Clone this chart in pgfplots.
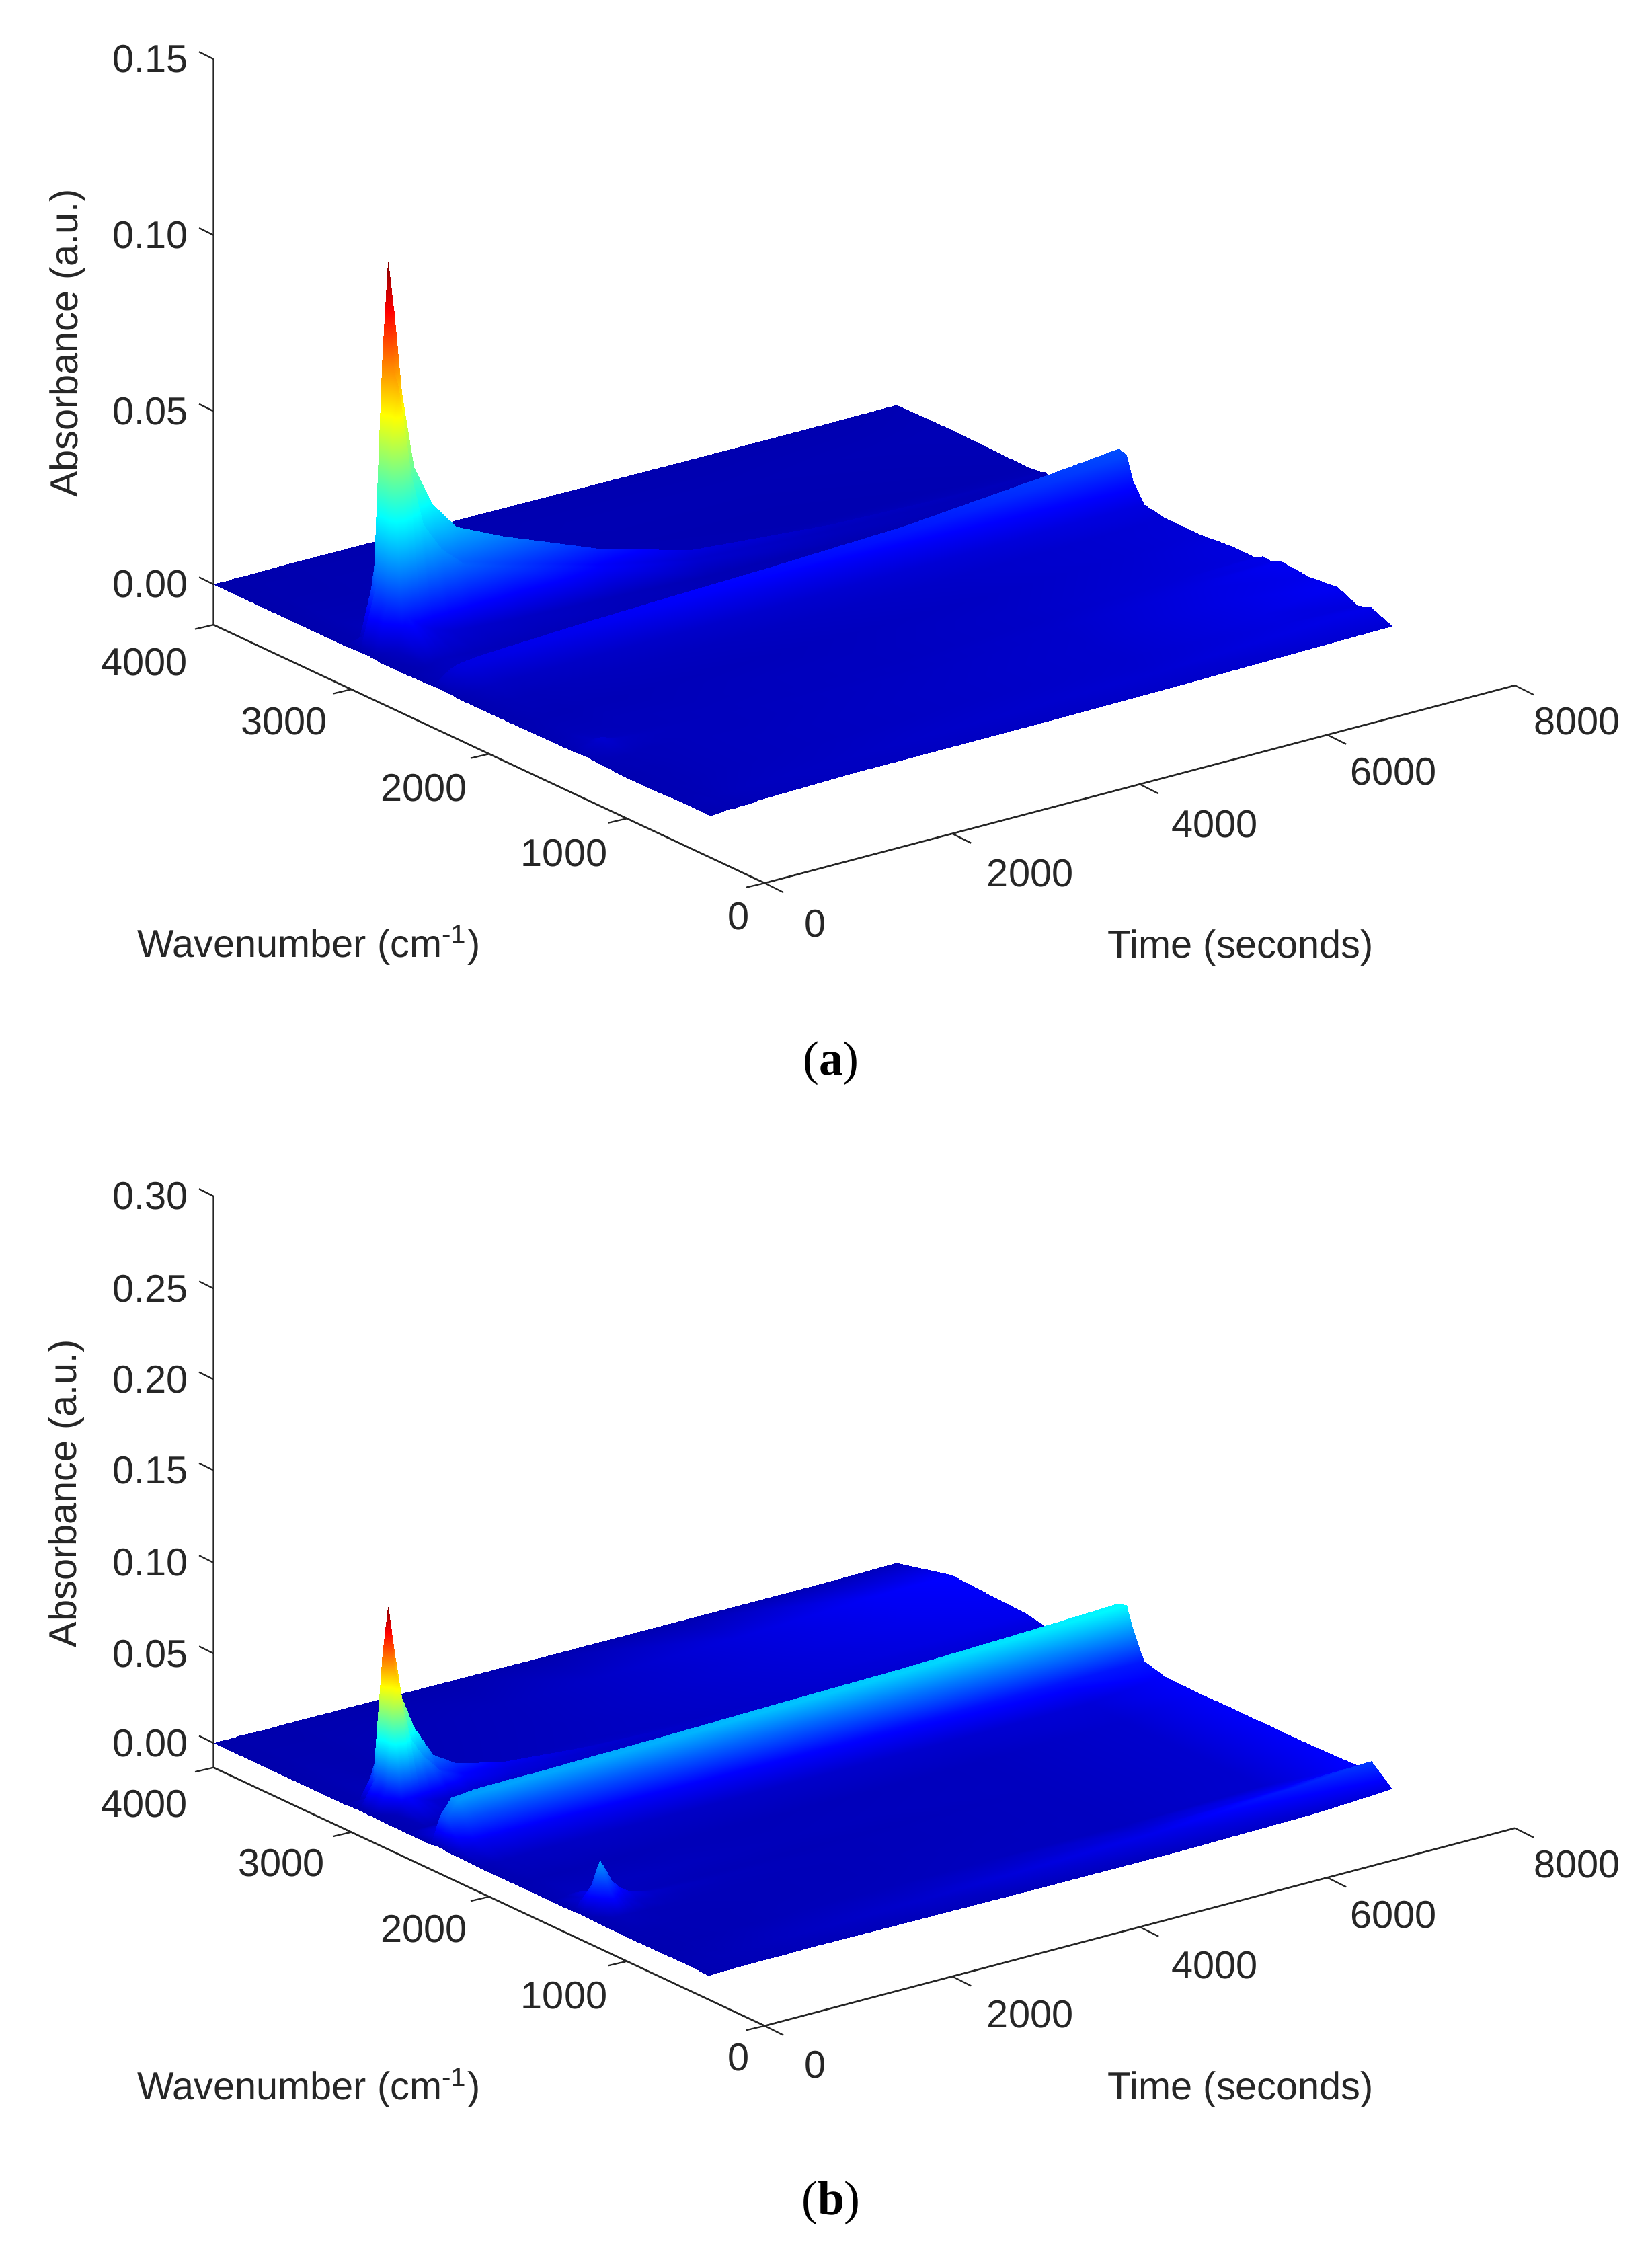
\documentclass[border=0pt]{standalone}
\usepackage{fontspec}
\setmainfont{Liberation Sans}
\newfontfamily\capfont{Liberation Serif}
\usepackage{pgfplots}
\pgfplotsset{compat=1.18}
\newcommand\Tm[1]{\ifcase\numexpr#1\relax 0\or 40\or 160\or 220\or 280\or 340\or 420\or 550\or 750\or 1000\or 1500\or 2500\or 3500\or 5000\or 6500\or 7300\fi}
\newcommand\Wn[1]{\ifcase\numexpr#1\relax 400\or 550\or 650\or 800\or 1000\or 1200\or 1280\or 1340\or 1400\or 1550\or 1800\or 2050\or 2200\or 2280\or 2330\or 2380\or 2420\or 2600\or 2780\or 2850\or 2885\or 2920\or 2960\or 3050\or 3300\or 3600\or 4000\fi}
\pgfplotsset{
 panel/.style={
  anchor=origin, clip=false, hide axis,
  xmin=0,xmax=8000,ymin=-4000,ymax=0,
  colormap/jet, point meta min=-0.005, point meta max=0.11,
 },
 surfstyle/.style={surf,shader=interp,z buffer=auto,mesh/cols=16},
 table/tabstyle/.style={row sep=crcr,header=false,
  x expr={\Tm{\coordindex-16*((2*\coordindex-15)/32)}},
  y expr={\Wn{(2*\coordindex-15)/32}-4000},
  z expr={\thisrowno{0}*0.0001}},
}
\newcommand\axesframe[2]{% top y, bottom y of the vertical axis
  \draw[black!85,line width=0.7pt] (148,#1)--(148,#2)--(530,#2+179)--(1050,#2+179-137);
  \foreach \k in {0,...,4}{
    \draw[black!85,line width=0.6pt] (530-95.5*\k,#2+179-44.75*\k)--++(-12.8,3);
    \draw[black!85,line width=0.6pt] (530+130*\k,#2+179-34.25*\k)--++(13,6.5);
  }
}
\begin{document}
\begin{tikzpicture}
\path[use as bounding box] (0,0) rectangle (22.9cm,-31.36cm);
\begin{axis}[panel, at={(2.96cm,-8.1cm)},
  x={(0.0013cm,0.0003425cm)}, y={(-0.00191cm,0.000895cm)}, z={(0cm,48.8cm)},
  zmin=-0.01148,zmax=0.15]
\addplot3[surfstyle] table[tabstyle]{
8\\6\\8\\10\\9\\12\\10\\14\\16\\18\\22\\24\\26\\32\\40\\44\\
10\\10\\12\\14\\12\\14\\16\\18\\20\\22\\24\\30\\34\\42\\62\\70\\
8\\8\\10\\10\\12\\12\\14\\16\\18\\20\\22\\28\\32\\38\\58\\56\\
6\\8\\9\\10\\10\\11\\12\\14\\16\\18\\20\\24\\28\\36\\62\\82\\
4\\6\\8\\10\\10\\10\\12\\14\\16\\18\\20\\24\\28\\36\\64\\72\\
8\\10\\12\\12\\12\\14\\14\\14\\16\\18\\18\\22\\26\\34\\60\\80\\
10\\14\\24\\30\\30\\26\\22\\20\\18\\18\\18\\22\\24\\34\\56\\66\\
8\\16\\30\\42\\38\\32\\26\\22\\19\\18\\18\\20\\24\\32\\52\\68\\
8\\12\\20\\25\\22\\20\\18\\18\\16\\16\\18\\20\\22\\30\\48\\56\\
6\\8\\12\\14\\14\\14\\14\\14\\16\\16\\16\\20\\22\\30\\44\\56\\
4\\6\\8\\9\\10\\10\\10\\10\\12\\12\\14\\16\\20\\26\\40\\48\\
4\\6\\10\\12\\12\\14\\14\\14\\16\\18\\20\\22\\26\\32\\40\\46\\
4\\8\\16\\20\\22\\24\\24\\24\\26\\28\\30\\34\\38\\46\\56\\58\\
6\\16\\32\\38\\42\\44\\44\\46\\48\\50\\54\\62\\68\\80\\98\\108\\
6\\22\\46\\54\\56\\60\\60\\62\\66\\70\\74\\86\\96\\115\\150\\172\\
6\\24\\50\\56\\60\\62\\64\\66\\70\\74\\80\\92\\102\\122\\160\\182\\
4\\8\\18\\22\\24\\24\\24\\26\\26\\28\\29\\32\\36\\42\\48\\50\\
2\\4\\8\\12\\16\\20\\22\\20\\18\\16\\14\\12\\10\\10\\10\\10\\
2\\6\\24\\84\\114\\100\\80\\60\\44\\36\\28\\18\\10\\8\\8\\8\\
4\\9\\144\\614\\754\\654\\494\\344\\259\\199\\159\\88\\38\\18\\12\\12\\
4\\9\\134\\594\\794\\674\\514\\354\\264\\204\\164\\90\\38\\18\\12\\12\\
4\\14\\194\\844\\1095\\944\\714\\494\\374\\294\\234\\130\\56\\26\\16\\16\\
4\\6\\50\\240\\400\\400\\330\\240\\190\\150\\120\\70\\30\\14\\11\\11\\
2\\3\\5\\8\\12\\16\\18\\16\\14\\14\\12\\10\\8\\6\\6\\8\\
0\\2\\4\\6\\8\\8\\8\\8\\8\\8\\8\\6\\6\\6\\8\\10\\
0\\0\\2\\2\\4\\4\\4\\4\\4\\6\\6\\6\\8\\8\\10\\12\\
0\\0\\1\\1\\1\\2\\2\\2\\3\\3\\3\\4\\4\\4\\5\\8\\
};
\end{axis}
\begin{axis}[panel, at={(2.96cm,-24.16cm)},
  x={(0.0013cm,0.0003425cm)}, y={(-0.00191cm,0.000895cm)}, z={(0cm,25.28cm)},
  zmin=-0.01345,zmax=0.30]
\addplot3[surfstyle] table[tabstyle]{
6\\6\\8\\8\\10\\10\\10\\12\\12\\14\\14\\16\\16\\20\\35\\60\\
8\\8\\10\\10\\10\\12\\12\\14\\16\\20\\26\\36\\52\\72\\125\\160\\
6\\6\\8\\8\\10\\10\\10\\12\\14\\18\\22\\28\\38\\52\\85\\100\\
4\\4\\6\\6\\6\\8\\8\\8\\10\\10\\14\\16\\20\\22\\40\\95\\
4\\6\\8\\8\\8\\8\\10\\10\\10\\10\\12\\14\\18\\22\\38\\92\\
6\\8\\14\\18\\18\\16\\14\\12\\12\\12\\12\\14\\16\\22\\38\\90\\
8\\10\\80\\140\\110\\80\\55\\32\\22\\16\\14\\14\\16\\22\\38\\90\\
8\\20\\170\\270\\210\\150\\100\\58\\32\\22\\16\\14\\16\\22\\38\\90\\
6\\10\\50\\90\\70\\50\\34\\24\\16\\14\\12\\12\\14\\22\\38\\90\\
6\\8\\14\\18\\20\\20\\20\\20\\20\\20\\18\\16\\18\\22\\38\\90\\
4\\6\\8\\10\\10\\10\\10\\10\\12\\12\\14\\14\\16\\22\\38\\88\\
4\\10\\18\\20\\20\\22\\22\\25\\25\\28\\28\\30\\34\\38\\50\\90\\
6\\40\\70\\75\\75\\78\\80\\80\\82\\85\\88\\92\\98\\105\\115\\120\\
8\\110\\165\\170\\172\\175\\178\\180\\182\\186\\190\\200\\212\\228\\250\\262\\
10\\180\\260\\265\\268\\270\\272\\275\\278\\280\\285\\295\\310\\330\\360\\380\\
10\\170\\255\\260\\262\\265\\268\\270\\272\\275\\280\\290\\305\\325\\355\\375\\
4\\50\\80\\85\\85\\85\\90\\90\\90\\92\\95\\98\\100\\105\\115\\120\\
2\\6\\10\\12\\14\\16\\16\\16\\14\\12\\10\\10\\12\\16\\22\\26\\
4\\6\\16\\70\\100\\90\\70\\45\\30\\22\\16\\12\\14\\22\\34\\40\\
6\\8\\130\\560\\720\\540\\370\\260\\150\\90\\52\\30\\28\\36\\46\\50\\
6\\8\\130\\560\\780\\580\\400\\280\\160\\100\\60\\32\\30\\38\\48\\52\\
6\\10\\190\\850\\1090\\840\\580\\400\\220\\140\\80\\40\\30\\40\\50\\55\\
6\\8\\50\\230\\380\\330\\260\\190\\110\\75\\45\\26\\26\\42\\55\\60\\
2\\3\\5\\8\\12\\14\\14\\14\\14\\14\\14\\20\\28\\45\\65\\75\\
0\\2\\4\\6\\8\\8\\8\\6\\6\\10\\12\\18\\30\\50\\75\\85\\
0\\0\\2\\2\\4\\4\\4\\4\\4\\8\\10\\16\\30\\55\\85\\95\\
0\\0\\0\\1\\1\\1\\1\\1\\2\\2\\2\\3\\4\\6\\12\\20\\
};
\end{axis}
\begin{scope}[x=0.02cm,y=-0.02cm,every node/.style={font=\fontsize{15.3}{18}\selectfont,text=black!85}]
\axesframe{41}{433}
\axesframe{829}{1225}
\foreach \y/\t in {41/0.15,163/0.10,285/0.05,405/0.00}{
  \draw[black!85,line width=0.6pt] (148,\y)--++(-10,-5);
  \node at (104,\y) {\t};}
\foreach \y/\t in {829/0.30,893/0.25,956/0.20,1019/0.15,1083/0.10,1146/0.05,1208/0.00}{
  \draw[black!85,line width=0.6pt] (148,\y)--++(-10,-5);
  \node at (104,\y) {\t};}
\foreach \x/\y/\t in {100/459/4000,197/500/3000,294/546/2000,391/591/1000,512/635/0,
   565/640/0,714/605/2000,842/571/4000,966/535/6000,1093/500/8000,
   100/1250/4000,195/1291/3000,294/1337/2000,391/1383/1000,512/1426/0,
   565/1431/0,714/1396/2000,842/1362/4000,966/1327/6000,1093/1292/8000}{
  \node at (\x,\y) {\t};}
\node at (214,655) {Wavenumber (cm\textsuperscript{-1})};
\node at (860,657) {Time (seconds)};
\node[rotate=90] at (47,238) {Absorbance (a.u.)};
\node at (214,1447) {Wavenumber (cm\textsuperscript{-1})};
\node at (860,1448) {Time (seconds)};
\node[rotate=90] at (46,1035) {Absorbance (a.u.)};
\node[font=\capfont\fontsize{19}{22}\selectfont,text=black] at (576,737) {(\textbf{a})};
\node[font=\capfont\fontsize{19}{22}\selectfont,text=black] at (576,1527) {(\textbf{b})};
\end{scope}
\end{tikzpicture}
\end{document}
